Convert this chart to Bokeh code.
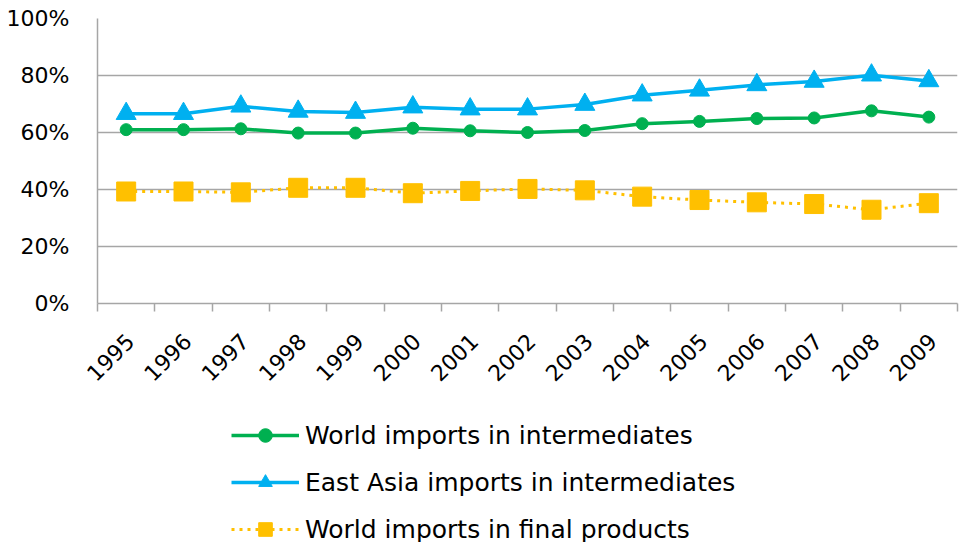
from bokeh.plotting import figure
from bokeh.layouts import column
from bokeh.models import Range1d, FixedTicker, PrintfTickFormatter, Legend, LegendItem, ColumnDataSource
from bokeh.embed import file_html
from bokeh.resources import INLINE
import math

years = [str(y) for y in range(1995, 2010)]
world_intermediates = [61.0, 61.0, 61.3, 59.8, 59.8, 61.5, 60.6, 60.0, 60.7, 63.1, 63.9, 64.9, 65.1, 67.6, 65.4]
east_asia_intermediates = [66.6, 66.6, 69.2, 67.4, 67.0, 68.9, 68.2, 68.2, 69.8, 73.1, 74.8, 76.7, 77.9, 80.1, 78.1]
world_final = [39.3, 39.3, 39.0, 40.6, 40.6, 38.7, 39.5, 40.2, 39.7, 37.5, 36.3, 35.5, 34.9, 32.9, 35.2]
y_ticks = [0, 20, 40, 60, 80, 100]
series_names = ["World imports in intermediates",
                "East Asia imports in intermediates",
                "World imports in final products"]

xs = list(range(len(years)))
src = ColumnDataSource(dict(x=xs, wi=world_intermediates, ea=east_asia_intermediates, wf=world_final))

FONT = "DejaVu Sans"
GRID = "#A6A6A6"
GREEN = "#00B050"
BLUE = "#00B0F0"
YELLOW = "#FFC000"
LABEL_SHIFT = 0.07  # horizontal nudge of rotated year labels (their tick marks are hidden)

p = figure(width=960, height=410, output_backend="svg", toolbar_location=None,
           x_range=Range1d(-0.5, len(years) - 0.5), y_range=Range1d(0, 100),
           min_border_left=97, min_border_right=3, min_border_top=18, min_border_bottom=107)
p.outline_line_color = None

label_ticks = [i + LABEL_SHIFT for i in xs]
p.xaxis.ticker = FixedTicker(ticks=label_ticks, minor_ticks=[i - 0.5 for i in range(len(years) + 1)])
p.xaxis.major_label_overrides = {t: y for t, y in zip(label_ticks, years)}
p.xaxis.major_label_orientation = math.pi / 4
p.xaxis.major_tick_out = 0
p.xaxis.major_tick_in = 0
p.xaxis.minor_tick_out = 8
p.xaxis.minor_tick_in = 0
p.xaxis.minor_tick_line_color = GRID
p.xaxis.minor_tick_line_width = 1.5
p.xaxis.axis_line_color = GRID
p.xaxis.axis_line_width = 1.5
p.xaxis.major_label_text_font = FONT
p.xaxis.major_label_text_font_size = "22px"
p.xaxis.major_label_text_color = "black"
p.xaxis.major_label_standoff = 26

p.yaxis.ticker = FixedTicker(ticks=y_ticks, minor_ticks=[])
p.yaxis.formatter = PrintfTickFormatter(format="%d%%")
p.yaxis.major_tick_out = 0
p.yaxis.major_tick_in = 0
p.yaxis.minor_tick_out = 0
p.yaxis.minor_tick_in = 0
p.yaxis.axis_line_color = GRID
p.yaxis.axis_line_width = 1.5
p.yaxis.major_label_text_font = FONT
p.yaxis.major_label_text_font_size = "22px"
p.yaxis.major_label_text_color = "black"
p.yaxis.major_label_standoff = 28

p.xgrid.grid_line_color = None
p.ygrid.grid_line_color = GRID
p.ygrid.grid_line_width = 1.5

p.line("x", "wi", source=src, line_color=GREEN, line_width=3.5)
p.scatter("x", "wi", source=src, marker="circle", size=12, fill_color=GREEN, line_color=GREEN)
p.line("x", "ea", source=src, line_color=BLUE, line_width=3.5)
p.scatter("x", "ea", source=src, marker="triangle", size=20, fill_color=BLUE, line_color=BLUE)
p.line("x", "wf", source=src, line_color=YELLOW, line_width=3, line_dash="3 5")
p.scatter("x", "wf", source=src, marker="square", size=19, fill_color=YELLOW, line_color=YELLOW)

# legend panel below the chart: same series, drawn outside this panel's visible ranges
lg = figure(width=960, height=132, output_backend="svg", toolbar_location=None,
            x_range=Range1d(-1000, -999), y_range=Range1d(-1000, -999),
            x_axis_location=None, y_axis_location=None,
            min_border=0, min_border_left=0, min_border_right=0, min_border_top=0, min_border_bottom=0)
lg.outline_line_color = None
lg.xgrid.grid_line_color = None
lg.ygrid.grid_line_color = None
d1 = lg.line("x", "wi", source=src, line_color=GREEN, line_width=3.5)
e1 = lg.scatter("x", "wi", source=src, marker="circle", fill_color=GREEN, line_color=GREEN)
d2 = lg.line("x", "ea", source=src, line_color=BLUE, line_width=3.5)
e2 = lg.scatter("x", "ea", source=src, marker="triangle", fill_color=BLUE, line_color=BLUE)
d3 = lg.line("x", "wf", source=src, line_color=YELLOW, line_width=3, line_dash="3 5")
e3 = lg.scatter("x", "wf", source=src, marker="square", fill_color=YELLOW, line_color=YELLOW)

legend = Legend(items=[
    LegendItem(label=series_names[0], renderers=[d1, e1]),
    LegendItem(label=series_names[1], renderers=[d2, e2]),
    LegendItem(label=series_names[2], renderers=[d3, e3]),
], location=(134, -4))
legend.border_line_color = None
legend.background_fill_alpha = 0
legend.padding = 0
legend.margin = 0
legend.spacing = 13
legend.glyph_width = 68
legend.glyph_height = 34
legend.label_height = 34
legend.label_standoff = 6
legend.label_text_font = FONT
legend.label_text_font_size = "25px"
legend.label_text_color = "black"
lg.add_layout(legend, "center")

layout = column(p, lg, spacing=0)
open("out.html", "w").write(file_html(layout, INLINE))
